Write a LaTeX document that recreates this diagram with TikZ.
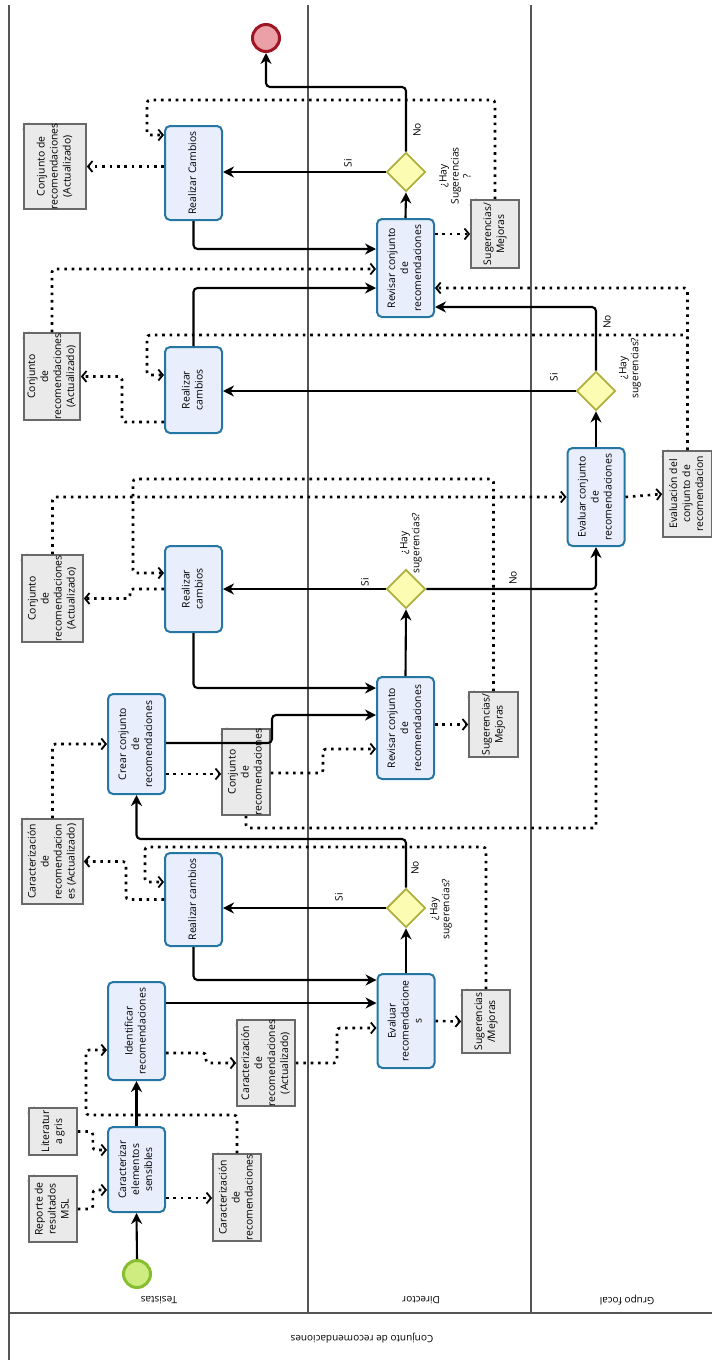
\documentclass[tikz,border=0pt]{standalone}
\usepackage{fontspec}
\setmainfont{Open Sans}
\usepackage{graphicx}
\usetikzlibrary{arrows.meta,shapes.geometric}

\definecolor{taskfill}{RGB}{232,238,251}
\definecolor{taskline}{RGB}{38,118,163}
\definecolor{gatefill}{RGB}{252,252,178}
\definecolor{gateline}{RGB}{176,176,64}
\definecolor{datfill}{RGB}{234,234,234}
\definecolor{datline}{RGB}{105,105,105}
\definecolor{inifill}{RGB}{206,236,128}
\definecolor{iniline}{RGB}{134,190,48}
\definecolor{finfill}{RGB}{234,160,166}
\definecolor{finline}{RGB}{158,22,36}
\definecolor{laneline}{RGB}{85,85,85}

\newcommand{\rtxt}[1]{\rotatebox{90}{\makebox[0pt]{\begin{tabular}{@{}c@{}}#1\end{tabular}}}}

\tikzset{
  task/.style={draw=taskline, fill=taskfill, line width=2pt, rounded corners=5pt,
    minimum width=57pt, inner sep=0pt, font=\fontsize{10.4}{13}\selectfont},
  gate/.style={diamond, aspect=1, draw=gateline, fill=gatefill, line width=1.9pt,
    minimum size=39pt, inner sep=0pt},
  dato/.style={draw=datline, fill=datfill, line width=1.7pt, minimum width=48pt,
    inner sep=0pt, font=\fontsize{10.4}{13}\selectfont,
    append after command={\pgfextra{
      \fill[white] ([shift={(-1pt,1pt)}]\tikzlastnode.north west)
        -- ([shift={(7pt,1pt)}]\tikzlastnode.north west)
        -- ([shift={(-1pt,-7pt)}]\tikzlastnode.north west) -- cycle;
      \draw[datline, fill=datfill, line width=1.4pt, line join=round]
        ([yshift=-6pt]\tikzlastnode.north west) -- ([xshift=6pt]\tikzlastnode.north west)
        -- ([shift={(6pt,-6pt)}]\tikzlastnode.north west) -- cycle;}}},
  seq/.style={line width=2.1pt, rounded corners=4pt, ->},
  assoc/.style={line width=2.6pt, dash pattern=on 2.6pt off 4.8pt, rounded corners=3pt,
    -{Straight Barb[length=4.5pt,width=11pt,line width=1.8pt]}},
  lbl/.style={rotate=90, align=center, font=\fontsize{10.2}{12}\selectfont},
  lanelbl/.style={rotate=180, font=\fontsize{10}{12}\selectfont},
  lane/.style={draw=laneline, line width=2.2pt}
}

\begin{document}
\begin{tikzpicture}[x=1pt,y=-1pt,>={Stealth[length=11pt,width=11pt]}]
  \useasboundingbox (0,0) rectangle (712,1360);

  % pool and lanes
  \draw[lane] (9,5) -- (9,1360);
  \draw[lane] (308,5) -- (308,1313);
  \draw[lane] (531,5) -- (531,1313);
  \draw[lane] (9,1313) -- (712,1313);
  \node (tesistas) [lanelbl] at (159,1300) {Tesistas};
  \node (director) [lanelbl] at (421,1300) {Director};
  \node (grupo) [lanelbl] at (627,1300) {Grupo focal};
  \node (pool) [lanelbl] at (362,1338) {Conjunto de recomendaciones};

  % events
  \node (ini) [circle, draw=iniline, fill=inifill, line width=3pt, minimum size=27pt, inner sep=0pt] at (137,1274) {};
  \node (fin) [circle, draw=finline, fill=finfill, line width=3pt, minimum size=27pt, inner sep=0pt] at (266,38) {};

  % tasks
  \node (car) [task, minimum height=85pt] at (136.5,1169.5) {\rtxt{Caracterizar\\elementos\\sensibles}};
  \node (ide) [task, minimum height=98pt] at (136.5,1031) {\rtxt{Identificar\\recomendaciones}};
  \node (cre) [task, minimum height=100pt] at (136.5,744) {\rtxt{Crear conjunto\\de\\recomendaciones}};
  \node (cam1) [task, minimum height=93pt] at (193.5,899.5) {\rtxt{Realizar cambios}};
  \node (cam2) [task, minimum height=86pt] at (193.5,589) {\rtxt{Realizar\\cambios}};
  \node (cam3) [task, minimum height=86pt] at (193.5,390) {\rtxt{Realizar\\cambios}};
  \node (cam4) [task, minimum height=94pt] at (193.5,173) {\rtxt{Realizar Cambios}};
  \node (evr) [task, minimum height=94pt] at (406,1021) {\rtxt{Evaluar\\recomendacione\\s}};
  \node (rev1) [task, minimum height=102pt] at (405.5,728) {\rtxt{Revisar conjunto\\de\\recomendaciones}};
  \node (rev2) [task, minimum height=98pt] at (405.5,268) {\rtxt{Revisar conjunto\\de\\recomendaciones}};
  \node (evc) [task, minimum height=98pt] at (596,497) {\rtxt{Evaluar conjunto\\de\\recomendaciones}};

  % gateways
  \node (g1) [gate] at (406,908) {};
  \node (g2) [gate] at (406,589) {};
  \node (g3) [gate] at (596,391) {};
  \node (g4) [gate] at (406,172) {};
  \node (q1) [lbl] at (441,909) {¿Hay\\sugerencias?};
  \node (q2) [lbl] at (411,543) {¿Hay\\sugerencias?};
  \node (q3) [lbl] at (630,368) {¿Hay\\sugerencias?};
  \node (q4) [lbl] at (455,176) {¿Hay\\Sugerencias\\?};

  % data objects
  \node (d1) [dato, minimum height=66pt] at (53,1209) {\rtxt{Reporte de\\resultados\\MSL}};
  \node (d2) [dato, minimum height=47pt] at (53,1131.5) {\rtxt{Literatur\\a gris}};
  \node (d3) [dato, minimum height=87pt] at (237,1197.5) {\rtxt{Caracterización\\de\\recomendaciones}};
  \node (d4) [dato, minimum width=58pt, minimum height=86pt] at (266,1063) {\rtxt{Caracterización\\de\\recomendaciones\\(Actualizado)}};
  \node (d5) [dato, minimum width=61pt, minimum height=85pt] at (52.5,861.5) {\rtxt{Caracterización\\de\\recomendacion\\es (Actualizado)}};
  \node (d6) [dato, minimum height=86pt] at (246,772) {\rtxt{Conjunto\\de\\recomendaciones}};
  \node (d7) [dato, minimum width=61pt, minimum height=87pt] at (52.5,598.5) {\rtxt{Conjunto\\de\\recomendaciones\\(Actualizado)}};
  \node (d8) [dato, minimum width=56pt, minimum height=87pt] at (52,376.5) {\rtxt{Conjunto\\de\\recomendaciones\\(Actualizado)}};
  \node (d9) [dato, minimum width=62pt, minimum height=85pt] at (55,166.5) {\rtxt{Conjunto de\\recomendaciones\\(Actualizado)}};
  \node (d10) [dato, minimum height=63pt] at (486,1021.5) {\rtxt{Sugerencias\\/Mejoras}};
  \node (d11) [dato, minimum width=49pt, minimum height=65pt] at (493.5,724.5) {\rtxt{Sugerencias/\\Mejoras}};
  \node (d12) [dato, minimum height=68pt] at (495,234) {\rtxt{Sugerencias/\\Mejoras}};
  \node (d13) [dato, minimum width=49pt, minimum height=86pt] at (687.5,494) {\rtxt{Evaluación del\\conjunto de\\recomendacion}};

  % sequence flows
  \draw[seq] (ini.north) -- (car.south);
  \draw[seq] (car.north) -- (ide.south);
  \draw[seq] (ide.east |- 0,1003) -- (evr.west |- 0,1003);
  \draw[seq] (evr.north) -- (g1.south);
  \draw[seq] (g1.west) -- (cam1.east |- g1.west);
  \node (si1) [lbl] at (339,897) {Si};
  \draw[seq] (g1.north) -- (g1.north |- 0,839) -| (cre.south);
  \node (no1) [lbl] at (415,868) {No};
  \draw[seq] (cam1.south) |- (evr.west |- 0,980);
  \draw[seq] (cre.east |- 0,743) -- (272,743) -- (272,715) -- (rev1.west |- 0,715);
  \draw[seq] (cam2.south) |- (rev1.west |- 0,688);
  \draw[seq] (rev1.north) -- (g2.south);
  \draw[seq] (g2.west) -- (cam2.east |- g2.west);
  \node (si2) [lbl] at (365,582) {Si};
  \draw[seq] (g2.east) -| (evc.south);
  \node (no2) [lbl] at (513,578) {No};
  \draw[seq] (evc.north) -- (g3.south);
  \draw[seq] (g3.west) -- (cam3.east |- g3.west);
  \node (si3) [lbl] at (554,377) {Si};
  \draw[seq] (g3.north) |- (rev2.east |- 0,307);
  \node (no3) [lbl] at (607,322) {No};
  \draw[seq] (cam3.north) |- (rev2.west |- 0,288);
  \draw[seq] (cam4.south) |- (rev2.west |- 0,249);
  \draw[seq] (rev2.north) -- (g4.south);
  \draw[seq] (g4.west) -- (cam4.east |- g4.west);
  \node (si4) [lbl] at (348,163) {Si};
  \draw[seq] (g4.north) -- (g4.north |- 0,87) -| (fin.south);
  \node (no4) [lbl] at (417,130) {No};

  % data associations
  \draw[assoc] (d1.east) -- ++(15,0) |- (car.west |- 0,1190);
  \draw[assoc] (d2.east) -- ++(15,0) |- (car.west |- 0,1150);
  \draw[assoc] (car.east |- 0,1198) -- (d3.west |- 0,1198);
  \draw[assoc] (d3.north) -- (d3.north |- 0,1115) -| (86,1050) -- (ide.west |- 0,1050);
  \draw[assoc] (ide.east |- 0,1053) -- (206,1053) |- (d4.west);
  \draw[assoc] (d4.east) -| (337,1028) -- (evr.west |- 0,1028);
  \draw[assoc] (evr.east) -- (d10.west);
  \draw[assoc] (d10.north) -- (d10.north |- 0,847) -| (145,882) -- (cam1.west |- 0,882);
  \draw[assoc] (cam1.west) -- (126,899.5) |- (d5.east);
  \draw[assoc] (d5.north) |- (cre.west);
  \draw[assoc] (cre.east |- 0,774) -- (d6.west |- 0,774);
  \draw[assoc] (d6.east |- 0,773) -| (323,749) -- (rev1.west |- 0,749);
  \draw[assoc, -] (d6.south) |- (evc.south |- 0,828) -- (g2.east -| evc.south);
  \draw[assoc] (rev1.east |- d11.west) -- (d11.west);
  \draw[assoc] (d11.north) -- (d11.north |- 0,479) -| (133,573) -- (cam2.west |- 0,573);
  \draw[assoc] (cam2.west) -- (130,589) |- (d7.east);
  \draw[assoc] (d7.north) |- (evc.west);
  \draw[assoc] (evc.east) -- (d13.west);
  \draw[assoc] (d13.north) |- (rev2.east |- 0,288);
  \draw[assoc] (d13.north) -- (d13.north |- 0,335) -| (147,375) -- (cam3.west |- 0,375);
  \draw[assoc] (cam3.west |- 0,422) -- (122,422) |- (d8.east);
  \draw[assoc] (d8.north) |- (rev2.west |- 0,269);
  \draw[assoc] (rev2.east |- d12.west) -- (d12.west);
  \draw[assoc] (d12.north) -- (d12.north |- 0,100) -| (147,135) -- (cam4.west |- 0,135);
  \draw[assoc] (cam4.west |- d9.east) -- (d9.east);
\end{tikzpicture}
\end{document}
